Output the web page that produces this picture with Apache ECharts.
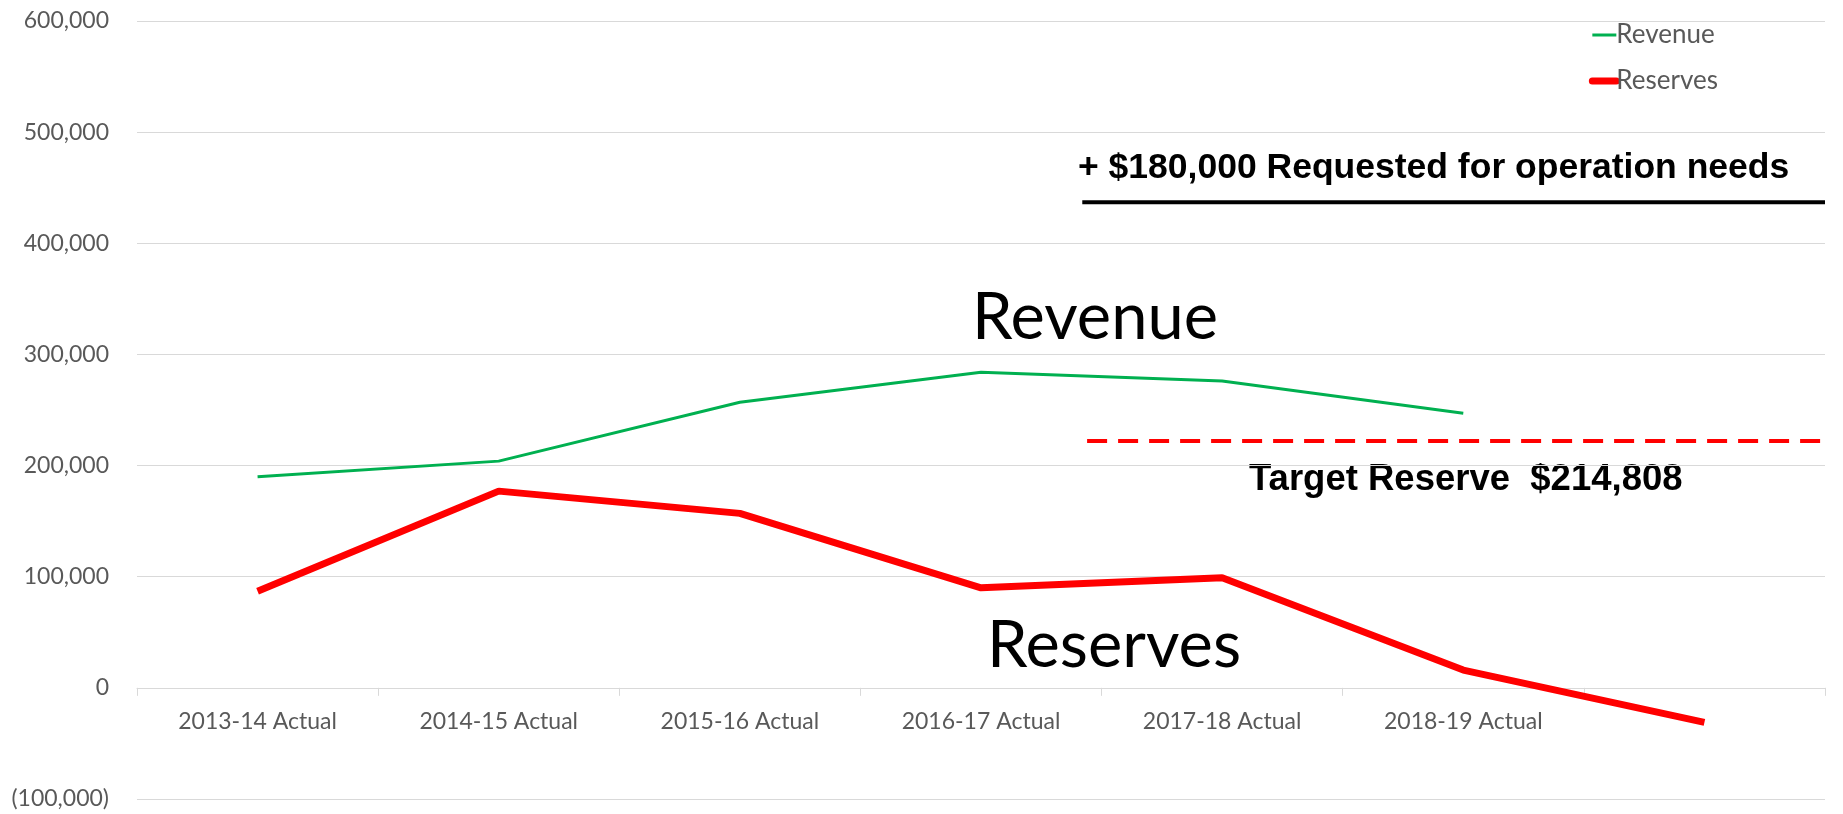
<!DOCTYPE html>
<html>
<head>
<meta charset="utf-8">
<title>Revenue and Reserves</title>
<script src="https://cdn.jsdelivr.net/npm/echarts@6/dist/echarts.min.js"></script>
<style>
	html, body { margin: 0; padding: 0; background: #ffffff; }
	#chart { width: 1843px; height: 814px; }
</style>
</head>
<body>
<div id="chart"></div>
<script>
// fiscal years on the x axis (last slot is the projection, no label)
var categories = ["2013-14 Actual", "2014-15 Actual", "2015-16 Actual", "2016-17 Actual", "2017-18 Actual", "2018-19 Actual", ""];

// values
var revenue = [190000, 204000, 257000, 284000, 276000, 247000, null];
var reserves = [87000, 177000, 157000, 90000, 99000, 16000, -31000];

// reference levels drawn as annotation lines
var targetReserveLevel = 222000;
var requestLevel = 437000;

var yTicks = { min: -100000, max: 600000, interval: 100000 };

var TEXT_GRAY = "#595959";
var GRID_GRAY = "#D9D9D9";

var HEIGHT = 814;
var PLOT_TOP = 21;
var PLOT_BOTTOM = 15;

// pixel row of the zero line, so the category axis can sit on it
var plotH = HEIGHT - PLOT_TOP - PLOT_BOTTOM;
var zeroY = PLOT_TOP + plotH * (yTicks.max / (yTicks.max - yTicks.min));

function formatNumber(v)
{
	var s = String(Math.abs(v)).replace(/\B(?=(\d{3})+(?!\d))/g, ",");
	return (v < 0 ? "(" + s + ")" : s);
}

var chart = echarts.init(document.getElementById("chart"));

var option =
{
	animation: false,
	backgroundColor: "#ffffff",
	grid:
	[
		{ left: 137, right: 18, top: PLOT_TOP, bottom: PLOT_BOTTOM, containLabel: false, outerBoundsMode: "none" },
		{ left: 137, right: 18, top: PLOT_TOP, bottom: HEIGHT - zeroY, containLabel: false, outerBoundsMode: "none" }
	],
	legend:
	{
		orient: "vertical",
		right: 120,
		top: 17,
		itemWidth: 24,
		itemHeight: 14,
		itemGap: 20,
		data:
		[
			{ name: "Revenue", itemStyle: { opacity: 0 }, lineStyle: { width: 3 } },
			{ name: "Reserves", itemStyle: { opacity: 0 }, lineStyle: { width: 7, cap: "round" } }
		],
		textStyle: { color: TEXT_GRAY, fontFamily: "Lato", fontSize: 26, padding: [0, 0, 0, -5] }
	},
	xAxis:
	[
		{
			// data axis for the series
			type: "category",
			gridIndex: 0,
			data: categories,
			boundaryGap: true,
			show: false
		},
		{
			// visible category axis, bottom edge on the zero line
			type: "category",
			gridIndex: 1,
			data: categories,
			boundaryGap: true,
			axisLine: { onZero: false, lineStyle: { color: GRID_GRAY, width: 1 } },
			axisTick: { show: true, interval: 0, length: 8, lineStyle: { color: GRID_GRAY } },
			axisLabel: { interval: 0, margin: 22, color: TEXT_GRAY, fontFamily: "Lato", fontSize: 23 }
		},
		{
			// hidden helper axis for the annotation lines
			type: "value",
			gridIndex: 0,
			min: 0,
			max: categories.length,
			show: false
		}
	],
	yAxis:
	[
		{
			type: "value",
			gridIndex: 0,
			min: yTicks.min,
			max: yTicks.max,
			interval: yTicks.interval,
			axisLine: { show: false },
			axisTick: { show: false },
			splitLine: { lineStyle: { color: GRID_GRAY, width: 1 } },
			axisLabel: { margin: 28, color: TEXT_GRAY, fontFamily: "Lato", fontSize: 23, formatter: formatNumber }
		},
		{
			type: "value",
			gridIndex: 1,
			min: 0,
			max: 1,
			show: false
		}
	],
	series:
	[
		{
			name: "Revenue",
			type: "line",
			data: revenue,
			symbol: "none",
			color: "#00B050",
			lineStyle: { color: "#00B050", width: 3 },
			z: 3
		},
		{
			name: "Reserves",
			type: "line",
			data: reserves,
			symbol: "none",
			color: "#FF0000",
			lineStyle: { color: "#FF0000", width: 7 },
			z: 3
		},
		{
			name: "target",
			type: "line",
			xAxisIndex: 2,
			data: [[3.94, targetReserveLevel], [categories.length, targetReserveLevel]],
			symbol: "none",
			silent: true,
			lineStyle: { color: "#FF0000", width: 4, type: [20, 11] }
		},
		{
			name: "request",
			type: "line",
			xAxisIndex: 2,
			data: [[3.92, requestLevel], [categories.length, requestLevel]],
			symbol: "none",
			silent: true,
			lineStyle: { color: "#000000", width: 4 }
		}
	],
	graphic:
	[
		{
			type: "text", x: 1078, y: 168,
			style: { text: "+ $180,000 Requested for operation needs", font: "bold 35.5px 'Liberation Sans'", fill: "#000", align: "left", verticalAlign: "middle" }
		},
		{
			type: "text", x: 1249, y: 480,
			style: { text: "Target Reserve  $214,808", font: "bold 36.5px 'Liberation Sans'", fill: "#000", align: "left", verticalAlign: "middle" }
		},
		{
			type: "text", x: 1095, y: 318,
			style: { text: "Revenue", font: "65px Lato", fill: "#000", align: "center", verticalAlign: "middle" }
		},
		{
			type: "text", x: 1114, y: 646,
			style: { text: "Reserves", font: "65px Lato", fill: "#000", align: "center", verticalAlign: "middle" }
		}
	]
};

chart.setOption(option);
</script>
</body>
</html>
